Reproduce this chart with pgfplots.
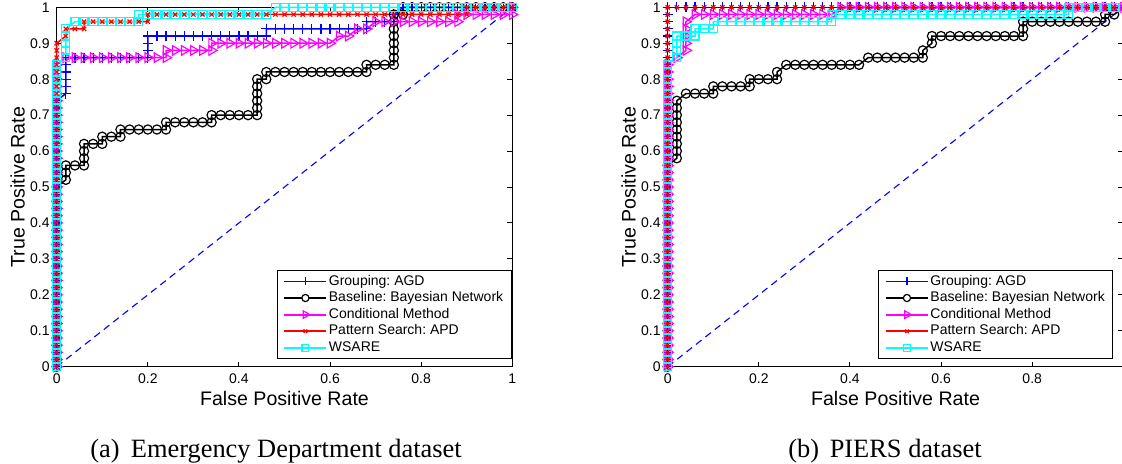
\documentclass[border=0pt]{standalone}
\usepackage{fontspec}
\setmainfont{Liberation Sans}
\newfontfamily\capfont{Liberation Serif}
\usepackage{pgfplots}
\pgfplotsset{compat=1.18}
\definecolor{mblue}{rgb}{0,0,1}
\definecolor{mmag}{rgb}{1,0,1}
\definecolor{mred}{rgb}{1,0,0}
\definecolor{mcyan}{rgb}{0,1,1}
\frenchspacing

\pgfplotsset{
  rocaxis/.style={
    scale only axis, width=227.8pt, height=179.7pt,
    xmin=0, xmax=1, ymin=0, ymax=1,
    clip=false,
    axis line style={line width=0.5pt},
    tick style={line width=0.5pt, black},
    major tick length=2.5pt,
    tick align=inside,
    /pgf/number format/assume math mode=true,
    xtick={0,0.2,0.4,0.6,0.8,1},
    ytick={0,0.1,0.2,0.3,0.4,0.5,0.6,0.7,0.8,0.9,1},
    yticklabels={0,0.1,0.2,0.3,0.4,0.5,0.6,0.7,0.8,0.9,1},
    tick label style={font=\fontsize{7}{8}\selectfont},
    xlabel={False Positive Rate},
    ylabel={True Positive Rate},
    label style={font=\fontsize{9.8}{11}\selectfont},
    xlabel style={at={(rel axis cs:0.5,-0.1093)}, anchor=base},
    ylabel style={at={(rel axis cs:-0.0856,0.5)}, anchor=center},
    legend cell align=left,
    legend style={anchor=south east, draw=black, line width=0.5pt, fill=white,
      font=\fontsize{7}{8.35}\selectfont, inner xsep=3.2pt, inner ysep=1.2pt,
      nodes={inner sep=0.8pt, text height=5.2pt, text depth=1.5pt}},
  },
  sAGD/.style={draw=mblue, line width=0.75pt, mark=+, mark size=2.5pt, mark options={solid, draw=mblue, line width=0.6pt},
    legend image code/.code={%
      \draw[draw=mblue, line width=0.9pt] (0pt,0pt) -- (21pt,0pt);
      \draw[draw=mblue, line width=0.6pt, mark=+, mark size=2pt] plot coordinates {(10.5pt,0pt)};}},
  sBN/.style={draw=black, line width=0.75pt, mark=o, mark size=2.3pt, mark options={solid, draw=black, line width=0.6pt},
    legend image code/.code={%
      \draw[draw=black, line width=0.9pt] (0pt,0pt) -- (8.7pt,0pt) (12.3pt,0pt) -- (21pt,0pt);
      \draw[draw=black, line width=0.6pt, mark=o, mark size=1.8pt] plot coordinates {(10.5pt,0pt)};}},
  sCM/.style={draw=mmag, line width=0.75pt, mark=triangle, mark size=2.75pt, mark options={solid, draw=mmag, rotate=-90, line width=0.6pt},
    legend image code/.code={%
      \draw[draw=mmag, line width=0.9pt] (0pt,0pt) -- (21pt,0pt);
      \draw[draw=mmag, line width=0.6pt, mark=triangle, mark size=2.2pt, mark options={rotate=-90}] plot coordinates {(10.5pt,0pt)};}},
  sAPD/.style={draw=mred, line width=0.75pt, mark=x, mark size=1.5pt, mark options={solid, draw=mred, line width=0.6pt},
    legend image code/.code={%
      \draw[draw=mred, line width=0.9pt] (0pt,0pt) -- (21pt,0pt);
      \draw[draw=mred, line width=0.6pt, mark=x, mark size=1.3pt] plot coordinates {(10.5pt,0pt)};}},
  sWS/.style={draw=mcyan, line width=0.75pt, mark=square, mark size=2pt, mark options={solid, draw=mcyan, line width=0.6pt},
    legend image code/.code={%
      \draw[draw=mcyan, line width=0.9pt] (0pt,0pt) -- (21pt,0pt);
      \draw[draw=mcyan, line width=0.6pt, mark=square, mark size=1.7pt] plot coordinates {(10.5pt,0pt)};}},
  sDiag/.style={draw=mblue, line width=0.55pt, dash pattern=on 3.5pt off 2.5pt, forget plot},
}

\begin{document}
\begin{tikzpicture}
\useasboundingbox (0,0) rectangle (561pt,231.5pt);

% ---------------- (a) Emergency Department dataset ----------------
\begin{axis}[rocaxis, at={(28.35pt,48.15pt)}, anchor=south west,
  xticklabels={0,0.2,0.4,0.6,0.8,1},
  legend style={at={(rel axis cs:0.9987,0.0214)}}]
\addplot[sDiag] coordinates {(0,0) (1,1)};
\addplot[sAGD] coordinates {
(0,0) (0,0.02) (0,0.04) (0,0.06) (0,0.08) (0,0.1) (0,0.12) (0,0.14) (0,0.16) (0,0.18) (0,0.2) (0,0.22) (0,0.24) (0,0.26) (0,0.28) (0,0.3) (0,0.32) (0,0.34) (0,0.36) (0,0.38) (0,0.4) (0,0.42) (0,0.44) (0,0.46) (0,0.48) (0,0.5) (0,0.52) (0,0.54) (0,0.56) (0,0.58) (0,0.6) (0,0.62) (0,0.64) (0,0.66) (0,0.68) (0,0.7) (0,0.72) (0,0.74)
(0.02,0.76) (0.02,0.78) (0.02,0.8) (0.02,0.82) (0.02,0.84) (0.02,0.86)
(0.04,0.86) (0.06,0.86) (0.08,0.86) (0.1,0.86) (0.12,0.86) (0.14,0.86) (0.16,0.86) (0.18,0.86) (0.2,0.86)
(0.2,0.88) (0.2,0.9) (0.2,0.92)
(0.22,0.92) (0.24,0.92) (0.26,0.92) (0.28,0.92) (0.3,0.92) (0.32,0.92) (0.34,0.92) (0.36,0.92) (0.38,0.92) (0.4,0.92) (0.42,0.92) (0.44,0.92) (0.46,0.92)
(0.46,0.94) (0.48,0.94) (0.5,0.94) (0.52,0.94) (0.54,0.94) (0.56,0.94) (0.58,0.94) (0.6,0.94) (0.62,0.94) (0.64,0.94) (0.66,0.94) (0.68,0.94)
(0.68,0.96) (0.7,0.96) (0.72,0.96) (0.74,0.96) (0.74,0.98)
(0.76,1) (0.78,1) (0.8,1) (0.82,1) (0.84,1) (0.86,1) (0.88,1) (0.9,1) (0.92,1) (0.94,1) (0.96,1) (0.98,1) (1,1)};
\addlegendentry{Grouping: AGD}
\addplot[sBN] coordinates {
(0,0) (0,0.02) (0,0.04) (0,0.06) (0,0.08) (0,0.1) (0,0.12) (0,0.14) (0,0.16) (0,0.18) (0,0.2) (0,0.22) (0,0.24) (0,0.26) (0,0.28) (0,0.3) (0,0.32) (0,0.34) (0,0.36) (0,0.38) (0,0.4) (0,0.42) (0,0.44) (0,0.46) (0,0.48) (0,0.5)
(0.02,0.52) (0.02,0.54) (0.02,0.56) (0.04,0.56) (0.06,0.56) (0.06,0.58) (0.06,0.6) (0.06,0.62) (0.08,0.62) (0.1,0.62) (0.1,0.64) (0.12,0.64) (0.14,0.64) (0.14,0.66) (0.16,0.66) (0.18,0.66) (0.2,0.66) (0.22,0.66) (0.24,0.66) (0.24,0.68) (0.26,0.68) (0.28,0.68) (0.3,0.68) (0.32,0.68) (0.34,0.68) (0.34,0.7) (0.36,0.7) (0.38,0.7) (0.4,0.7) (0.42,0.7) (0.44,0.7) (0.44,0.72) (0.44,0.74) (0.44,0.76) (0.44,0.78) (0.44,0.8) (0.46,0.8) (0.46,0.82) (0.48,0.82) (0.5,0.82) (0.52,0.82) (0.54,0.82) (0.56,0.82) (0.58,0.82) (0.6,0.82) (0.62,0.82) (0.64,0.82) (0.66,0.82) (0.68,0.82) (0.68,0.84) (0.7,0.84) (0.72,0.84) (0.74,0.84) (0.74,0.86) (0.74,0.88) (0.74,0.9) (0.74,0.92) (0.74,0.94) (0.74,0.96) (0.74,0.98) (0.76,0.98)
(0.76,1) (0.78,1) (0.8,1) (0.82,1) (0.84,1) (0.86,1) (0.88,1) (0.9,1) (0.92,1) (0.94,1) (0.96,1) (0.98,1) (1,1)};
\addlegendentry{Baseline: Bayesian Network}
\addplot[sCM] coordinates {
(0,0) (0,0.02) (0,0.04) (0,0.06) (0,0.08) (0,0.1) (0,0.12) (0,0.14) (0,0.16) (0,0.18) (0,0.2) (0,0.22) (0,0.24) (0,0.26) (0,0.28) (0,0.3) (0,0.32) (0,0.34) (0,0.36) (0,0.38) (0,0.4) (0,0.42) (0,0.44) (0,0.46) (0,0.48) (0,0.5) (0,0.52) (0,0.54) (0,0.56) (0,0.58) (0,0.6) (0,0.62) (0,0.64) (0,0.66) (0,0.68) (0,0.7) (0,0.72) (0,0.74) (0,0.76) (0,0.78) (0,0.8) (0,0.82) (0,0.84)
(0.02,0.86) (0.04,0.86) (0.06,0.86) (0.08,0.86) (0.1,0.86) (0.12,0.86) (0.14,0.86) (0.16,0.86) (0.18,0.86) (0.2,0.86) (0.22,0.86) (0.24,0.86)
(0.24,0.88) (0.26,0.88) (0.28,0.88) (0.3,0.88) (0.32,0.88) (0.34,0.88)
(0.34,0.9) (0.36,0.9) (0.38,0.9) (0.4,0.9) (0.42,0.9) (0.44,0.9) (0.46,0.9) (0.48,0.9) (0.5,0.9) (0.52,0.9) (0.54,0.9) (0.56,0.9) (0.58,0.9) (0.6,0.9)
(0.62,0.92) (0.64,0.92) (0.66,0.94) (0.68,0.94) (0.7,0.96) (0.72,0.96) (0.74,0.96) (0.76,0.96) (0.78,0.96) (0.8,0.96) (0.82,0.96) (0.84,0.96) (0.86,0.96) (0.88,0.96)
(0.88,0.98) (0.9,0.98) (0.92,0.98) (0.94,0.98) (0.96,0.98) (0.98,0.98) (1,0.98) (1,1)};
\addlegendentry{Conditional Method}
\addplot[sAPD] coordinates {
(0,0) (0,0.02) (0,0.04) (0,0.06) (0,0.08) (0,0.1) (0,0.12) (0,0.14) (0,0.16) (0,0.18) (0,0.2) (0,0.22) (0,0.24) (0,0.26) (0,0.28) (0,0.3) (0,0.32) (0,0.34) (0,0.36) (0,0.38) (0,0.4) (0,0.42) (0,0.44) (0,0.46) (0,0.48) (0,0.5) (0,0.52) (0,0.54) (0,0.56) (0,0.58) (0,0.6) (0,0.62) (0,0.64) (0,0.66) (0,0.68) (0,0.7) (0,0.72) (0,0.74) (0,0.76) (0,0.78) (0,0.8) (0,0.82) (0,0.84) (0,0.86) (0,0.88) (0,0.9)
(0.02,0.92) (0.02,0.94) (0.04,0.94) (0.06,0.94) (0.06,0.96) (0.08,0.96) (0.1,0.96) (0.12,0.96) (0.14,0.96) (0.16,0.96) (0.18,0.96) (0.2,0.96)
(0.2,0.98) (0.22,0.98) (0.24,0.98) (0.26,0.98) (0.28,0.98) (0.3,0.98) (0.32,0.98) (0.34,0.98) (0.36,0.98) (0.38,0.98) (0.4,0.98) (0.42,0.98) (0.44,0.98) (0.46,0.98) (0.48,0.98) (0.5,0.98) (0.52,0.98) (0.54,0.98) (0.56,0.98) (0.58,0.98) (0.6,0.98) (0.62,0.98) (0.64,0.98) (0.66,0.98) (0.68,0.98) (0.7,0.98) (0.72,0.98) (0.74,0.98) (0.76,0.98) (0.78,0.98) (0.8,0.98) (0.82,0.98) (0.84,0.98) (0.86,0.98) (0.88,0.98) (0.9,0.98)
(0.9,1) (0.92,1) (0.94,1) (0.96,1) (0.98,1) (1,1)};
\addlegendentry{Pattern Search: APD}
\addplot[sWS] coordinates {
(0,0) (0,0.02) (0,0.04) (0,0.06) (0,0.08) (0,0.1) (0,0.12) (0,0.14) (0,0.16) (0,0.18) (0,0.2) (0,0.22) (0,0.24) (0,0.26) (0,0.28) (0,0.3) (0,0.32) (0,0.34) (0,0.36) (0,0.38) (0,0.4) (0,0.42) (0,0.44) (0,0.46) (0,0.48) (0,0.5) (0,0.52) (0,0.54) (0,0.56) (0,0.58) (0,0.6) (0,0.62) (0,0.64) (0,0.66) (0,0.68) (0,0.7) (0,0.72) (0,0.74) (0,0.76) (0,0.78) (0,0.8) (0,0.82) (0,0.84)
(0.02,0.86) (0.02,0.88) (0.02,0.9) (0.02,0.92) (0.02,0.94) (0.04,0.96) (0.06,0.96) (0.08,0.96) (0.1,0.96) (0.12,0.96) (0.14,0.96) (0.16,0.96) (0.18,0.96)
(0.18,0.98) (0.2,0.98) (0.22,0.98) (0.24,0.98) (0.26,0.98) (0.28,0.98) (0.3,0.98) (0.32,0.98) (0.34,0.98) (0.36,0.98) (0.38,0.98) (0.4,0.98) (0.42,0.98) (0.44,0.98) (0.46,0.98)
(0.48,1) (0.5,1) (0.52,1) (0.54,1) (0.56,1) (0.58,1) (0.6,1) (0.62,1) (0.64,1) (0.66,1) (0.68,1) (0.7,1) (0.72,1) (0.74,1) (0.76,1) (0.78,1) (0.8,1) (0.82,1) (0.84,1) (0.86,1) (0.88,1) (0.9,1) (0.92,1) (0.94,1) (0.96,1) (0.98,1) (1,1)};
\addlegendentry{WSARE}
\end{axis}

% ---------------- (b) PIERS dataset ----------------
\begin{axis}[rocaxis, at={(333.85pt,48.15pt)}, anchor=south west,
  xticklabels={0,0.2,0.4,0.6,0.8,{}},
  legend style={at={(rel axis cs:0.978,0.0214)}}]
\addplot[sDiag] coordinates {(0,0) (1,1)};
\addplot[sAGD] coordinates {
(0,0) (0,0.02) (0,0.04) (0,0.06) (0,0.08) (0,0.1) (0,0.12) (0,0.14) (0,0.16) (0,0.18) (0,0.2) (0,0.22) (0,0.24) (0,0.26) (0,0.28) (0,0.3) (0,0.32) (0,0.34) (0,0.36) (0,0.38) (0,0.4) (0,0.42) (0,0.44) (0,0.46) (0,0.48) (0,0.5) (0,0.52) (0,0.54) (0,0.56) (0,0.58) (0,0.6) (0,0.62) (0,0.64) (0,0.66) (0,0.68) (0,0.7) (0,0.72) (0,0.74) (0,0.76) (0,0.78) (0,0.8) (0,0.82) (0,0.84) (0,0.86) (0,0.88) (0,0.9) (0,0.92) (0,0.94) (0,0.96) (0,0.98) (0,1)
(0.02,1) (0.04,1) (0.06,1) (0.08,1) (0.1,1) (0.12,1) (0.14,1) (0.16,1) (0.18,1) (0.2,1) (0.22,1) (0.24,1) (0.26,1) (0.28,1) (0.3,1) (0.32,1) (0.34,1) (0.36,1) (0.38,1) (0.4,1) (0.42,1) (0.44,1) (0.46,1) (0.48,1) (0.5,1) (0.52,1) (0.54,1) (0.56,1) (0.58,1) (0.6,1) (0.62,1) (0.64,1) (0.66,1) (0.68,1) (0.7,1) (0.72,1) (0.74,1) (0.76,1) (0.78,1) (0.8,1) (0.82,1) (0.84,1) (0.86,1) (0.88,1) (0.9,1) (0.92,1) (0.94,1) (0.96,1) (0.98,1) (1,1)};
\addlegendentry{Grouping: AGD}
\addplot[sBN] coordinates {
(0,0) (0,0.02) (0,0.04) (0,0.06) (0,0.08) (0,0.1) (0,0.12) (0,0.14) (0,0.16) (0,0.18) (0,0.2) (0,0.22) (0,0.24) (0,0.26) (0,0.28) (0,0.3) (0,0.32) (0,0.34) (0,0.36) (0,0.38) (0,0.4) (0,0.42) (0,0.44) (0,0.46) (0,0.48) (0,0.5) (0,0.52) (0,0.54) (0,0.56)
(0.02,0.58) (0.02,0.6) (0.02,0.62) (0.02,0.64) (0.02,0.66) (0.02,0.68) (0.02,0.7) (0.02,0.72) (0.02,0.74)
(0.04,0.76) (0.06,0.76) (0.08,0.76) (0.1,0.76) (0.1,0.78) (0.12,0.78) (0.14,0.78) (0.16,0.78) (0.18,0.78) (0.18,0.8) (0.2,0.8) (0.22,0.8) (0.24,0.8) (0.24,0.82)
(0.26,0.84) (0.28,0.84) (0.3,0.84) (0.32,0.84) (0.34,0.84) (0.36,0.84) (0.38,0.84) (0.4,0.84) (0.42,0.84)
(0.44,0.86) (0.46,0.86) (0.48,0.86) (0.5,0.86) (0.52,0.86) (0.54,0.86) (0.56,0.86) (0.56,0.88) (0.58,0.9)
(0.58,0.92) (0.6,0.92) (0.62,0.92) (0.64,0.92) (0.66,0.92) (0.68,0.92) (0.7,0.92) (0.72,0.92) (0.74,0.92) (0.76,0.92) (0.78,0.92) (0.78,0.94)
(0.78,0.96) (0.8,0.96) (0.82,0.96) (0.84,0.96) (0.86,0.96) (0.88,0.96) (0.9,0.96) (0.92,0.96) (0.94,0.96) (0.96,0.96) (0.96,0.98) (0.98,0.98) (1,1)};
\addlegendentry{Baseline: Bayesian Network}
\addplot[sCM] coordinates {
(0,0) (0,0.02) (0,0.04) (0,0.06) (0,0.08) (0,0.1) (0,0.12) (0,0.14) (0,0.16) (0,0.18) (0,0.2) (0,0.22) (0,0.24) (0,0.26) (0,0.28) (0,0.3) (0,0.32) (0,0.34) (0,0.36) (0,0.38) (0,0.4) (0,0.42) (0,0.44) (0,0.46) (0,0.48) (0,0.5) (0,0.52) (0,0.54) (0,0.56) (0,0.58) (0,0.6) (0,0.62) (0,0.64) (0,0.66) (0,0.68) (0,0.7) (0,0.72) (0,0.74) (0,0.76) (0,0.78) (0,0.8) (0,0.82) (0,0.84)
(0.02,0.86) (0.04,0.88) (0.04,0.9) (0.04,0.92) (0.04,0.94) (0.04,0.96)
(0.06,0.98) (0.08,0.98) (0.1,0.98) (0.12,0.98) (0.14,0.98) (0.16,0.98) (0.18,0.98) (0.2,0.98) (0.22,0.98) (0.24,0.98) (0.26,0.98) (0.28,0.98) (0.3,0.98) (0.32,0.98) (0.34,0.98) (0.36,0.98)
(0.38,1) (0.4,1) (0.42,1) (0.44,1) (0.46,1) (0.48,1) (0.5,1) (0.52,1) (0.54,1) (0.56,1) (0.58,1) (0.6,1) (0.62,1) (0.64,1) (0.66,1) (0.68,1) (0.7,1) (0.72,1) (0.74,1) (0.76,1) (0.78,1) (0.8,1) (0.82,1) (0.84,1) (0.86,1) (0.88,1) (0.9,1) (0.92,1) (0.94,1) (0.96,1) (0.98,1) (1,1)};
\addlegendentry{Conditional Method}
\addplot[sAPD] coordinates {
(0,0) (0,0.02) (0,0.04) (0,0.06) (0,0.08) (0,0.1) (0,0.12) (0,0.14) (0,0.16) (0,0.18) (0,0.2) (0,0.22) (0,0.24) (0,0.26) (0,0.28) (0,0.3) (0,0.32) (0,0.34) (0,0.36) (0,0.38) (0,0.4) (0,0.42) (0,0.44) (0,0.46) (0,0.48) (0,0.5) (0,0.52) (0,0.54) (0,0.56) (0,0.58) (0,0.6) (0,0.62) (0,0.64) (0,0.66) (0,0.68) (0,0.7) (0,0.72) (0,0.74) (0,0.76) (0,0.78) (0,0.8) (0,0.82) (0,0.84) (0,0.86) (0,0.88) (0,0.9) (0,0.92) (0,0.94) (0,0.96) (0,0.98) (0,1)
(0.02,1) (0.04,1) (0.06,1) (0.08,1) (0.1,1) (0.12,1) (0.14,1) (0.16,1) (0.18,1) (0.2,1) (0.22,1) (0.24,1) (0.26,1) (0.28,1) (0.3,1) (0.32,1) (0.34,1) (0.36,1) (0.38,1) (0.4,1) (0.42,1) (0.44,1) (0.46,1) (0.48,1) (0.5,1) (0.52,1) (0.54,1) (0.56,1) (0.58,1) (0.6,1) (0.62,1) (0.64,1) (0.66,1) (0.68,1) (0.7,1) (0.72,1) (0.74,1) (0.76,1) (0.78,1) (0.8,1) (0.82,1) (0.84,1) (0.86,1) (0.88,1) (0.9,1) (0.92,1) (0.94,1) (0.96,1) (0.98,1) (1,1)};
\addlegendentry{Pattern Search: APD}
\addplot[sWS] coordinates {
(0,0) (0,0.02) (0,0.04) (0,0.06) (0,0.08) (0,0.1) (0,0.12) (0,0.14) (0,0.16) (0,0.18) (0,0.2) (0,0.22) (0,0.24) (0,0.26) (0,0.28) (0,0.3) (0,0.32) (0,0.34) (0,0.36) (0,0.38) (0,0.4) (0,0.42) (0,0.44) (0,0.46) (0,0.48) (0,0.5) (0,0.52) (0,0.54) (0,0.56) (0,0.58) (0,0.6) (0,0.62) (0,0.64) (0,0.66) (0,0.68) (0,0.7) (0,0.72) (0,0.74) (0,0.76) (0,0.78) (0,0.8) (0,0.82) (0,0.84)
(0.02,0.86) (0.02,0.88) (0.02,0.9) (0.02,0.92) (0.04,0.92) (0.06,0.92) (0.06,0.94) (0.08,0.94) (0.1,0.94) (0.1,0.96)
(0.12,0.96) (0.14,0.96) (0.16,0.96) (0.18,0.96) (0.2,0.96) (0.22,0.96) (0.24,0.96) (0.26,0.96) (0.28,0.96) (0.3,0.96) (0.32,0.96) (0.34,0.96) (0.36,0.96)
(0.36,0.98) (0.38,0.98) (0.4,0.98) (0.42,0.98) (0.44,0.98) (0.46,0.98) (0.48,0.98) (0.5,0.98) (0.52,0.98) (0.54,0.98) (0.56,0.98) (0.58,0.98) (0.6,0.98) (0.62,0.98) (0.64,0.98) (0.66,0.98) (0.68,0.98) (0.7,0.98) (0.72,0.98) (0.74,0.98) (0.76,0.98) (0.78,0.98) (0.8,0.98) (0.82,0.98) (0.84,0.98) (0.86,0.98) (0.88,0.98)
(0.88,1) (0.9,1) (0.92,1) (0.94,1) (0.96,1) (0.98,1) (1,1)};
\addlegendentry{WSARE}
\end{axis}

\node[anchor=base, inner sep=0pt, font=\capfont\fontsize{13.2}{15}\selectfont] at (138pt,3pt) {(a)\hspace{0.43em}Emergency Department dataset};
\node[anchor=base, inner sep=0pt, font=\capfont\fontsize{13.2}{15}\selectfont] at (442.5pt,3pt) {(b)\hspace{0.4em}PIERS dataset};
\end{tikzpicture}
\end{document}
